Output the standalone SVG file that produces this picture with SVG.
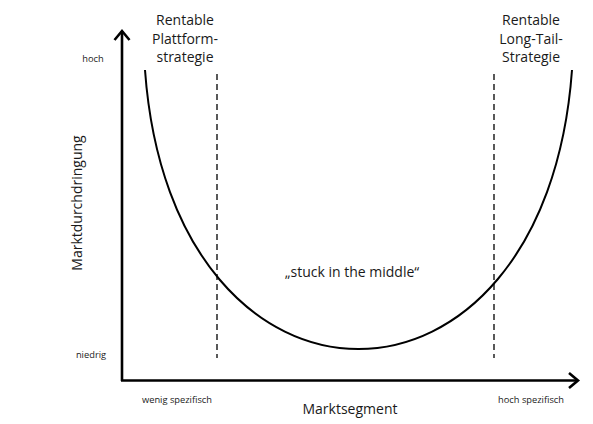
<svg xmlns="http://www.w3.org/2000/svg" width="593" height="424" viewBox="0 0 593 424">
<style>
.t{font-family:"Open Sans","Liberation Sans",sans-serif;fill:#1a1a1a}
.big{font-size:14px}
.sm{font-size:9.3px}
.axis{stroke:#000;stroke-width:2.6;fill:none}
.dash{stroke:#000;stroke-width:1.3;stroke-dasharray:6,4;fill:none}
</style>
<rect width="593" height="424" fill="#fff"/>
<g id="connectors">
<path class="axis" d="M122,381 V31"/>
<path class="axis" d="M114.5,40 L122,31 L129.5,40" stroke-linejoin="miter"/>
<path class="axis" d="M121,380.5 H577"/>
<path class="axis" d="M569,373 L578,380.5 L569,388"/>
<path id="curve" d="M145,70 C172,442 545,442 572,70" fill="none" stroke="#000" stroke-width="2"/>
<path class="dash" d="M217,74 V358"/>
<path class="dash" d="M494,74 V358"/>
</g>
<g id="label-platform">
<text class="t big" text-anchor="middle" x="185" y="25">Rentable</text>
<text class="t big" text-anchor="middle" x="185" y="44">Plattform-</text>
<text class="t big" text-anchor="middle" x="185" y="62">strategie</text>
</g>
<g id="label-longtail">
<text class="t big" text-anchor="middle" x="531" y="25">Rentable</text>
<text class="t big" text-anchor="middle" x="531" y="44">Long-Tail-</text>
<text class="t big" text-anchor="middle" x="531" y="62">Strategie</text>
</g>
<g id="label-middle">
<text class="t big" text-anchor="middle" x="352" y="277">„stuck in the middle“</text>
</g>
<g id="y-axis-labels">
<text class="t sm" text-anchor="middle" x="93" y="62">hoch</text>
<text class="t sm" text-anchor="middle" x="91" y="358">niedrig</text>
<text class="t big" text-anchor="middle" transform="translate(82,203) rotate(-90)">Marktdurchdringung</text>
</g>
<g id="x-axis-labels">
<text class="t sm" text-anchor="middle" x="177" y="403">wenig spezifisch</text>
<text class="t sm" text-anchor="middle" x="531" y="403">hoch spezifisch</text>
<text class="t big" text-anchor="middle" x="350" y="414">Marktsegment</text>
</g>
</svg>
